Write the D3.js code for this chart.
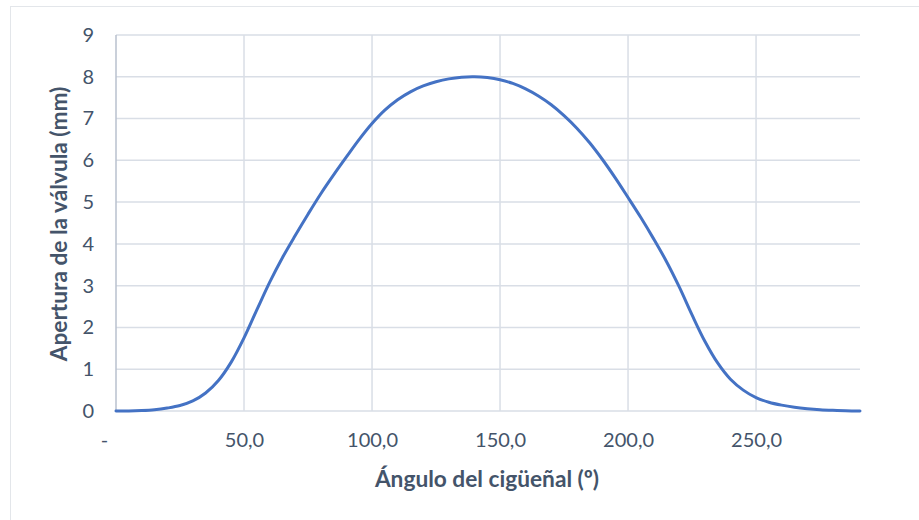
<!DOCTYPE html>
<html>
<head>
<meta charset="utf-8">
<script src="https://cdn.jsdelivr.net/npm/d3@7"></script>
<style>
  body { margin: 0; background: #fff; }
  #chart { width: 919px; height: 520px; }
</style>
</head>
<body>
<div id="chart"></div>
<script>
// crank angle (deg) and valve lift (mm)
const angles = [0, 5, 10, 15, 20, 25, 30, 35, 40, 45, 50, 55, 60, 65, 70, 75, 80, 85, 90, 95,
  100, 105, 110, 115, 120, 125, 130, 135, 140, 145, 150, 155, 160, 165, 170, 175, 180, 185, 190, 195,
  200, 205, 210, 215, 220, 225, 230, 235, 240, 245, 250, 255, 260, 265, 270, 275, 280, 285, 290.6];
const lift = [0, 0, 0.01, 0.03, 0.07, 0.13, 0.24, 0.43, 0.73, 1.17, 1.75, 2.42, 3.08, 3.67, 4.2, 4.71, 5.2, 5.65, 6.08, 6.5,
  6.88, 7.2, 7.45, 7.64, 7.78, 7.88, 7.95, 7.99, 8.0, 7.98, 7.93, 7.84, 7.71, 7.54, 7.33, 7.07, 6.77, 6.42, 6.02, 5.58,
  5.11, 4.63, 4.12, 3.58, 2.97, 2.3, 1.67, 1.15, 0.76, 0.5, 0.32, 0.21, 0.14, 0.09, 0.055, 0.03, 0.015, 0.005, 0];
const xTicks = [0, 50, 100, 150, 200, 250];
const yTicks = [0, 1, 2, 3, 4, 5, 6, 7, 8, 9];
const xTitle = "Ángulo del cigüeñal (º)";
const yTitle = "Apertura de la válvula (mm)";

const W = 919, H = 520;
const margin = {top: 35, right: 59, bottom: 109, left: 116};
const width = W - margin.left - margin.right,
      height = H - margin.top - margin.bottom;

const font = "Lato, 'Open Sans', sans-serif";
const textCol = "#44546A";
const gridCol = "#D9DEE6";

const svg = d3.select("#chart").append("svg")
  .attr("width", W)
  .attr("height", H)
  .style("font-family", font);

// outer chart border
svg.append("rect")
  .attr("x", 10.5).attr("y", 6.5)
  .attr("width", 930).attr("height", 530)
  .attr("fill", "none")
  .attr("stroke", "#E3E6EA");

const g = svg.append("g")
  .attr("transform", `translate(${margin.left},${margin.top})`);

const x = d3.scaleLinear().domain([0, 290.6]).range([0, width]);
const y = d3.scaleLinear().domain([0, 9]).range([height, 0]);

// grid
g.append("g")
  .selectAll("line.h")
  .data(yTicks)
  .join("line")
    .attr("x1", 0).attr("x2", width)
    .attr("y1", d => y(d)).attr("y2", d => y(d))
    .attr("stroke", gridCol).attr("stroke-width", 1.5);

g.append("g")
  .selectAll("line.v")
  .data(xTicks.slice(1))
  .join("line")
    .attr("x1", d => x(d)).attr("x2", d => x(d))
    .attr("y1", 0).attr("y2", height)
    .attr("stroke", gridCol).attr("stroke-width", 1.5);

// left axis line
g.append("line")
  .attr("x1", 0).attr("x2", 0)
  .attr("y1", 0).attr("y2", height)
  .attr("stroke", "#B8C1CE").attr("stroke-width", 1.5);

// y axis labels
const yAxis = g.append("g")
  .call(d3.axisLeft(y).tickValues(yTicks).tickSize(0).tickPadding(22).tickFormat(d3.format("d")));
yAxis.select(".domain").remove();
yAxis.selectAll("text")
  .attr("fill", textCol)
  .style("font-size", "20px")
  .style("font-family", font);

// x axis labels
const xAxis = g.append("g")
  .attr("transform", `translate(0,${height})`)
  .call(d3.axisBottom(x).tickValues(xTicks).tickSize(0).tickPadding(22)
    .tickFormat(d => d === 0 ? "-" : d3.format(".1f")(d).replace(".", ",")));
xAxis.select(".domain").remove();
xAxis.selectAll("text")
  .attr("fill", textCol)
  .style("font-size", "20px")
  .style("font-family", font)
  .attr("dx", d => d === 0 ? -12 : 0);

// curve
const pts = angles.map((a, i) => [a, lift[i]]);
g.append("path")
  .datum(pts)
  .attr("fill", "none")
  .attr("stroke", "#4472C4")
  .attr("stroke-width", 3)
  .attr("stroke-linecap", "round")
  .attr("d", d3.line()
    .x(d => x(d[0]))
    .y(d => y(d[1]))
    .curve(d3.curveCatmullRom.alpha(0.5)));

// axis titles
svg.append("text")
  .attr("x", 487)
  .attr("y", 487)
  .attr("text-anchor", "middle")
  .attr("fill", textCol)
  .style("font-size", "22.7px")
  .style("font-weight", "bold")
  .text(xTitle);

svg.append("text")
  .attr("transform", `translate(67,${margin.top + height / 2 + 1}) rotate(-90)`)
  .attr("text-anchor", "middle")
  .attr("fill", textCol)
  .style("font-size", "22.7px")
  .style("font-weight", "bold")
  .text(yTitle);
</script>
</body>
</html>
